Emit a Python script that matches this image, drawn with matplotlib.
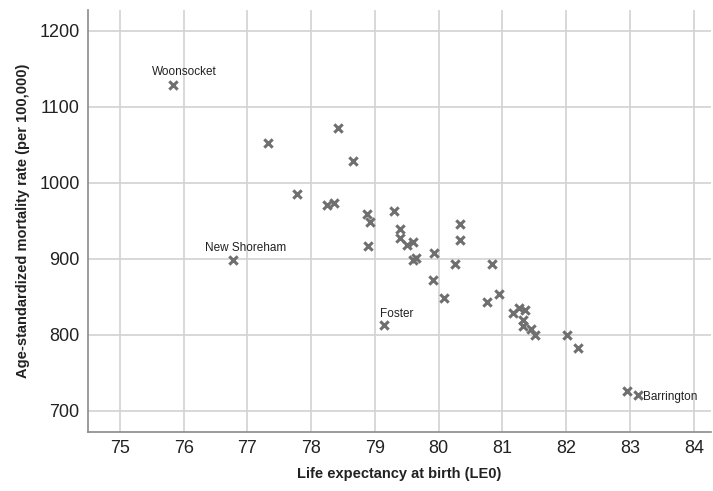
import matplotlib
matplotlib.use("Agg")
import matplotlib.pyplot as plt

le0 = [75.83, 77.32, 78.42, 78.65, 77.78, 78.25, 78.35, 78.88, 78.93, 78.89,
       79.30, 79.40, 79.40, 79.51, 79.60, 79.59, 79.64, 79.93, 80.34, 80.34,
       80.26, 79.91, 80.09, 80.83, 80.76, 80.95, 79.14, 81.16, 81.26, 81.35,
       81.32, 81.32, 81.44, 81.51, 82.01, 82.18, 82.95, 83.13, 76.77]
mort = [1128, 1052, 1072, 1029, 985, 971, 973, 959, 948, 916,
        963, 939, 927, 918, 922, 898, 901, 907, 946, 924,
        893, 872, 848, 893, 843, 853, 813, 829, 835, 833,
        819, 812, 807, 799, 799, 782, 726, 721, 898]

labels = {"Woonsocket": (75.83, 1128), "New Shoreham": (76.77, 898),
          "Foster": (79.14, 813), "Barrington": (83.13, 721)}

x_ticks = [75, 76, 77, 78, 79, 80, 81, 82, 83, 84]
y_ticks = [700, 800, 900, 1000, 1100, 1200]

plt.rcParams['font.family'] = ['Liberation Sans', 'DejaVu Sans']

fig = plt.figure(figsize=(7.13, 4.91), dpi=100)
ax = fig.add_axes([88/713, 59/491, 623/713, 422/491])

ax.scatter(le0, mort, marker='x', s=36, linewidths=2.2, color='#6f6f6f', zorder=3)

offsets = {"Woonsocket": ((8.6, 9.4), 'center'),
           "New Shoreham": ((9.4, 8.6), 'center'),
           "Foster": ((9.4, 8.0), 'center'),
           "Barrington": ((3.6, -1.4), 'left')}
for name, (xv, yv) in labels.items():
    off, ha = offsets[name]
    ax.annotate(name, (xv, yv), xytext=off, textcoords='offset points',
                ha=ha, va='center', fontsize=8.5, color='#222222')

ax.set_xlim(74.5, 84.27)
ax.set_ylim(672, 1227)
ax.set_xticks(x_ticks)
ax.set_yticks(y_ticks)
ax.tick_params(length=0, labelsize=13, colors='#222222', pad=6)
ax.grid(True, color='#d2d2d2', linewidth=1.2)
ax.set_axisbelow(True)
for s in ['top', 'right']:
    ax.spines[s].set_visible(False)
for s in ['left', 'bottom']:
    ax.spines[s].set_color('#8a8a8a')
    ax.spines[s].set_linewidth(1.2)

ax.set_xlabel('Life expectancy at birth (LE0)', fontsize=10.5, fontweight='bold',
              color='#222222', labelpad=7)
ax.set_ylabel('Age-standardized mortality rate (per 100,000)', fontsize=10.5,
              fontweight='bold', color='#222222', labelpad=7)

fig.savefig('out.png', dpi=100)
